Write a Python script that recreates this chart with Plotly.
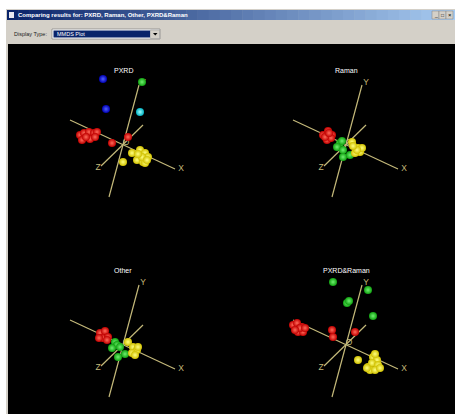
import plotly.graph_objects as go

W, H = 455, 414

# ---------------- data (projected positions, local units ~ px, v up) ----------------
panel_titles = ["PXRD", "Raman", "Other", "PXRD&Raman"]

# axis endpoints (neg end, pos end) in projected coordinates
axis_x_u = [-54, 51]; axis_x_v = [24, -25]
axis_y_u = [-15, 15]; axis_y_v = [-53, 59]
axis_z_u = [19, -23]; axis_z_v = [19, -22]
label_text = ["X", "Y", "Z", "O"]
label_u = [57, 19, -26, 2]
label_v = [-25, 61, -24, 1]

# PXRD
pxrd_red_u = [-44, -40, -35, -30, -27, -42, -34, -29, -38, -12, 4]
pxrd_red_v = [9, 11, 12, 11, 12, 4, 5, 7, 7, 1, 7]
pxrd_yel_u = [8, 16, 21, 24, 13, 19, 21, 18, 14, 23, -1]
pxrd_yel_v = [-9, -6, -9, -13, -16, -18, -19, -13, -10, -16, -18]
pxrd_blue_u = [-21, -18]
pxrd_blue_v = [65, 35]
pxrd_green_u = [18]
pxrd_green_v = [62]
pxrd_cyan_u = [16]
pxrd_cyan_v = [32]

# Raman
raman_red_u = [-24, -19, -15, -20, -16, -22, -18]
raman_red_v = [9, 13, 9, 4, 6, 7, 11]
raman_green_u = [-7, -5, -10, -4, -4, 3]
raman_green_v = [1, 3, -3, -6, -13, -11]
raman_yel_u = [5, 11, 13, 8, 15, 10, 6]
raman_yel_v = [2, -4, -8, -9, -4, -6, -2]

# Other
other_red_u = [-24, -19, -21, -16, -25, -17]
other_red_v = [11, 13, 6, 7, 6, 4]
other_green_u = [-9, -7, -12, -4, -6, 1]
other_green_v = [2, -1, -4, -3, -13, -10]
other_yel_u = [4, 9, 13, 8, 14, 11]
other_yel_v = [2, -3, -6, -9, -3, -11]

# PXRD&Raman
both_green_u = [-14, 21, 0, 2, 26]
both_green_v = [62, 54, 41, 43, 28]
both_red_u = [-54, -50, -45, -49, -44, -47, -42, -52, -15, -14, 8]
both_red_v = [19, 21, 17, 12, 12, 16, 16, 14, 14, 7, 12]
both_yel_u = [11, 21, 26, 30, 25, 31, 23, 28, 33, 20, 28]
both_yel_v = [-16, -23, -13, -16, -19, -21, -26, -26, -24, -24, -10]

# panel origins on the page (px) and boxes
origins = [(124, 144), (347, 144), (124, 344), (347, 344)]
boxes = [((8, 236), (44, 244)), ((236, 455), (44, 244)),
         ((8, 236), (244, 414)), ((236, 455), (244, 414))]

RED = ("#c00000", "#ff6a5a")
YEL = ("#d0c000", "#ffff80")
GRN = ("#10a010", "#70f070")
BLU = ("#0000b0", "#5060ff")
CYN = ("#00b0c0", "#a0ffff")
AXC = "#c4b97a"

panel_series = [
    [(pxrd_red_u, pxrd_red_v, RED), (pxrd_yel_u, pxrd_yel_v, YEL),
     (pxrd_blue_u, pxrd_blue_v, BLU), (pxrd_green_u, pxrd_green_v, GRN),
     (pxrd_cyan_u, pxrd_cyan_v, CYN)],
    [(raman_red_u, raman_red_v, RED), (raman_green_u, raman_green_v, GRN),
     (raman_yel_u, raman_yel_v, YEL)],
    [(other_red_u, other_red_v, RED), (other_green_u, other_green_v, GRN),
     (other_yel_u, other_yel_v, YEL)],
    [(both_red_u, both_red_v, RED), (both_green_u, both_green_v, GRN),
     (both_yel_u, both_yel_v, YEL)],
]

fig = go.Figure()
layout = dict(width=W, height=H, margin=dict(l=0, r=0, t=0, b=0),
              paper_bgcolor="white", plot_bgcolor="black", showlegend=False,
              shapes=[], annotations=[])

for i in range(4):
    n = "" if i == 0 else str(i + 1)
    xr, yr = "x" + n, "y" + n
    (x0, x1), (y0, y1) = boxes[i]
    ox, oy = origins[i]
    layout["xaxis" + n] = dict(domain=[x0 / W, x1 / W], range=[x0 - ox, x1 - ox],
                               visible=False, fixedrange=True)
    layout["yaxis" + n] = dict(domain=[1 - y1 / H, 1 - y0 / H], range=[oy - y1, oy - y0],
                               visible=False, fixedrange=True)
    # axis labels (under the points)
    fig.add_trace(go.Scatter(x=label_u, y=label_v, mode="text", text=label_text,
                             xaxis=xr, yaxis=yr,
                             textfont=dict(color=AXC, size=8.5, family="Liberation Sans")))
    # axes lines
    for au, av in ((axis_x_u, axis_x_v), (axis_y_u, axis_y_v), (axis_z_u, axis_z_v)):
        fig.add_trace(go.Scatter(x=au, y=av, mode="lines", xaxis=xr, yaxis=yr,
                                 line=dict(color=AXC, width=1.2), hoverinfo="skip"))
    # points
    for su, sv, (c_edge, c_center) in panel_series[i]:
        fig.add_trace(go.Scatter(x=su, y=sv, mode="markers", xaxis=xr, yaxis=yr,
                                 marker=dict(size=8, color=c_edge,
                                             gradient=dict(type="radial", color=c_center),
                                             line=dict(width=0))))
    layout["annotations"].append(dict(x=-1, y=74, xref=xr, yref=yr, text=panel_titles[i],
                                      showarrow=False,
                                      font=dict(color="white", size=7, family="Liberation Sans")))

def px(x, y):
    return x / W, 1 - y / H

def rect(x0, y0, x1, y1, fill, line=None, lw=0):
    a, b = px(x0, y0); c, d = px(x1, y1)
    return dict(type="rect", xref="paper", yref="paper", x0=a, y0=d, x1=c, y1=b,
                fillcolor=fill, line=dict(width=lw, color=line or fill), layer="below")

shapes = layout["shapes"]
# window frame & black client area
shapes.append(rect(6, 9, 455, 414, "#d4d0c8"))
shapes.append(rect(8, 44, 455, 414, "black"))
# title bar gradient
c0 = (10, 36, 106); c1 = (166, 202, 240)
N = 40
for k in range(N):
    t = k / (N - 1)
    col = "rgb(%d,%d,%d)" % tuple(int(c0[j] + (c1[j] - c0[j]) * t) for j in range(3))
    xa = 7 + (455 - 7) * k / N
    xb = 7 + (455 - 7) * (k + 1) / N + 0.5
    shapes.append(rect(xa, 10, xb, 20, col))
# title icon
shapes.append(rect(9, 12, 14, 18, "#e8e8f0"))
# title buttons
for bx in (432, 439, 446):
    s = rect(bx, 11, bx + 7, 19, "#d4d0c8", "#808080", 0.5)
    s["layer"] = "above"
    shapes.append(s)
# dropdown
s = rect(52, 29, 160, 39, "white", "#808080", 0.7); s["layer"] = "above"; shapes.append(s)
s = rect(53.5, 30.5, 150, 37.5, "#0a246a"); s["layer"] = "above"; shapes.append(s)
s = rect(150.5, 30, 159.5, 38.5, "#d4d0c8", "#909090", 0.5); s["layer"] = "above"; shapes.append(s)
a1 = px(153, 33); a2 = px(157.5, 33); a3 = px(155.25, 35.5)
shapes.append(dict(type="path", xref="paper", yref="paper",
                   path="M %f %f L %f %f L %f %f Z" % (a1[0], a1[1], a2[0], a2[1], a3[0], a3[1]),
                   fillcolor="black", line=dict(width=0)))

ann = layout["annotations"]
def text(x, y, s, size, color, bold=False, anchor="left"):
    a, b = px(x, y)
    ann.append(dict(x=a, y=b, xref="paper", yref="paper", text=("<b>%s</b>" % s) if bold else s,
                    showarrow=False, xanchor=anchor, yanchor="middle",
                    font=dict(size=size, color=color, family="Liberation Sans")))

text(16, 15, "Comparing results for: PXRD, Raman, Other, PXRD&amp;Raman", 6, "white", bold=True)
text(12, 34, "Display Type:", 5.5, "#202020")
text(55, 34, "MMDS Plot", 5.5, "white")
text(435.5, 15, "_", 5, "black", anchor="center")
text(442.5, 15, "□", 5, "black", anchor="center")
text(449.5, 15, "×", 6, "black", anchor="center")

fig.update_layout(**layout)
fig.write_html("out.html")
